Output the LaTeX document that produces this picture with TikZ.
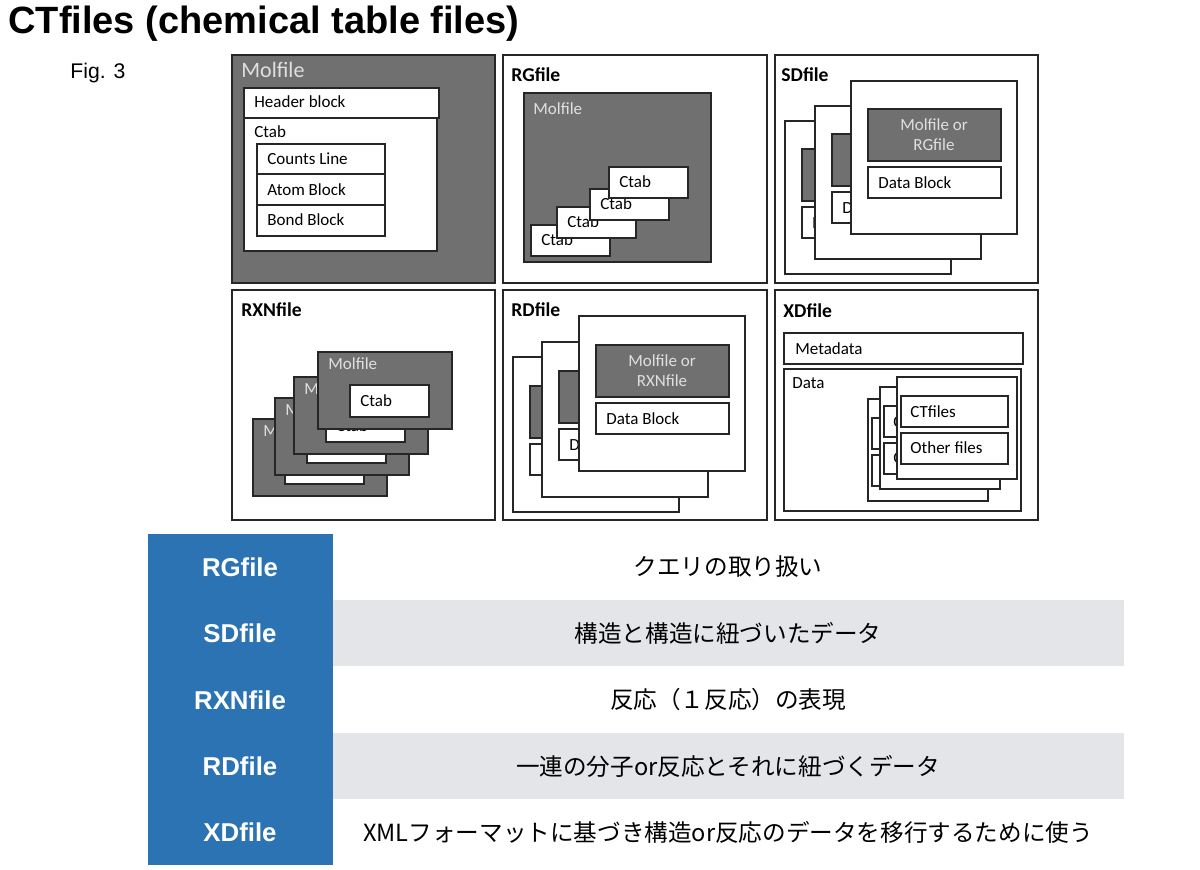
\documentclass[tikz,border=0pt]{standalone}
\usepackage{fontspec}
\setmainfont{Liberation Sans}
\newfontfamily\calfont{Carlito}
\newfontfamily\cjk{Noto Sans CJK JP}
\definecolor{bx}{HTML}{707070}
\definecolor{lt}{HTML}{E0E0E0}
\definecolor{bl}{HTML}{2C73B4}
\definecolor{rowg}{HTML}{E4E5E9}
\begin{document}
\begin{tikzpicture}[x=0.5pt,y=-0.5pt,
  fr/.style={draw=black!85,line width=1pt},
  wb/.style={fr,fill=white},
  gb/.style={fr,fill=bx},
  t/.style={anchor=west,inner sep=0pt,font=\calfont\fontsize{8.5}{10}\selectfont},
  tl/.style={t,text=lt},
  tb/.style={anchor=west,inner sep=0pt,font=\calfont\bfseries\fontsize{9.8}{11}\selectfont},
  lab/.style={text=white,font=\bfseries\fontsize{12.9}{15}\selectfont},
  jp/.style={font=\cjk\fontsize{11.8}{14}\selectfont}]
\useasboundingbox (0,0) rectangle (1200,869);
\node[anchor=west,inner sep=0pt,font=\bfseries\fontsize{19}{22}\selectfont] (title) at (8,24) {CTfiles (chemical table files)};
\node[anchor=west,inner sep=0pt,font=\fontsize{10.6}{12}\selectfont] (fig) at (70,73) {Fig. 3};
% Panel 1 Molfile
\draw[gb] (232,55) rectangle (495,283);
\node[tl,font=\calfont\fontsize{11}{13}\selectfont] at (241,70) {Molfile};
\draw[wb] (244,118) rectangle (437,251);
\draw[wb] (244,88) rectangle (439,118);
\node[t] at (254,102) {Header block};
\node[t] at (254,132) {Ctab};
\draw[wb] (257,144) rectangle (385,174);
\draw[wb] (257,174) rectangle (385,205);
\draw[wb] (257,205) rectangle (385,236);
\node[t] at (267,159) {Counts Line};
\node[t] at (267,190) {Atom Block};
\node[t] at (267,220) {Bond Block};
% Panel 2 RGfile
\draw[wb] (503,55) rectangle (767,283);
\node[tb] at (511,75) {RGfile};
\draw[gb] (524,93) rectangle (711,262);
\node[tl] at (533,109) {Molfile};
\foreach \x/\y in {531/225,557/207,590/189,609/167}{
  \draw[wb] (\x,\y) rectangle (\x+79,\y+31);
  \node[t] at (\x+10,\y+15) {Ctab};}
% Panel 3 SDfile
\draw[wb] (775,55) rectangle (1038,283);
\node[tb] at (781,75) {SDfile};
\foreach \x/\y in {785/121,815/106,851/81}{
  \draw[wb] (\x,\y) rectangle (\x+166,\y+153);
  \draw[gb] (\x+17,\y+28) rectangle (\x+150,\y+80);
  \node[t,text=lt,anchor=center,align=center] at (\x+83,\y+54) {Molfile or\\RGfile};
  \draw[wb] (\x+17,\y+86) rectangle (\x+150,\y+117);
  \node[t] at (\x+27,\y+102) {Data Block};}
% Panel 4 RXNfile
\draw[wb] (232,290) rectangle (495,520);
\node[tb] at (241,310) {RXNfile};
\foreach \x/\y in {253/419,275/398,294/377,318/352}{
  \draw[gb] (\x,\y) rectangle (\x+134,\y+77);
  \node[tl] at (\x+10,\y+12) {Molfile};
  \draw[wb] (\x+32,\y+33) rectangle (\x+111,\y+65);
  \node[t] at (\x+42,\y+49) {Ctab};}
% Panel 5 RDfile
\draw[wb] (503,290) rectangle (767,520);
\node[tb] at (511,310) {RDfile};
\foreach \x/\y in {513/357,542/342,579/316}{
  \draw[wb] (\x,\y) rectangle (\x+166,\y+155);
  \draw[gb] (\x+17,\y+29) rectangle (\x+150,\y+81);
  \node[t,text=lt,anchor=center,align=center] at (\x+83,\y+55) {Molfile or\\RXNfile};
  \draw[wb] (\x+17,\y+87) rectangle (\x+150,\y+118);
  \node[t] at (\x+27,\y+103) {Data Block};}
% Panel 6 XDfile
\draw[wb] (775,290) rectangle (1038,520);
\node[tb] at (783,311) {XDfile};
\draw[wb] (784,333) rectangle (1023,364);
\node[t] at (795,349) {Metadata};
\draw[wb] (784,369) rectangle (1021,511);
\node[t] at (792,383) {Data};
\foreach \x/\y in {868/399,880/387,897/377}{
  \draw[wb] (\x,\y) rectangle (\x+120,\y+102);
  \draw[wb] (\x+4,\y+19) rectangle (\x+111,\y+50);
  \node[t] at (\x+13,\y+35) {CTfiles};
  \draw[wb] (\x+4,\y+56) rectangle (\x+111,\y+87);
  \node[t] at (\x+13,\y+71) {Other files};}
% Table
\fill[rowg] (333,600) rectangle (1124,666);
\fill[rowg] (333,733) rectangle (1124,799);
\fill[bl] (148,534) rectangle (333,865);
\node[lab] (l1) at (240,567) {RGfile};
\node[lab] (l2) at (240,633) {SDfile};
\node[lab] (l3) at (240,700) {RXNfile};
\node[lab] (l4) at (240,766) {RDfile};
\node[lab] (l5) at (240,832) {XDfile};
\node[jp] (d1) at (728,567) {クエリの取り扱い};
\node[jp] (d2) at (728,633) {構造と構造に紐づいたデータ};
\node[jp] (d3) at (728,700) {反応（１反応）の表現};
\node[jp] (d4) at (728,766) {一連の分子or反応とそれに紐づくデータ};
\node[jp] (d5) at (728,832) {XMLフォーマットに基づき構造or反応のデータを移行するために使う};
\end{tikzpicture}
\end{document}
